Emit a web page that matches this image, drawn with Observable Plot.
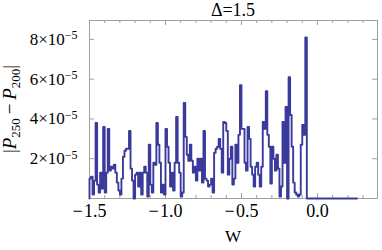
<!DOCTYPE html>
<html><head><meta charset="utf-8">
<script src="https://cdn.jsdelivr.net/npm/d3@7"></script>
<script src="https://cdn.jsdelivr.net/npm/@observablehq/plot@0.6"></script>
<style>html,body{margin:0;padding:0;background:#fff} svg{display:block}</style>
</head><body><div id="chart"></div>
<script>
// ---- data ----
const chartTitle = "Δ=1.5";
const xLabel = "W";
const binStart = -1.5;      // left edge of first bin (W)
const binWidth = 0.01;      // bin width (W)
const tailEnd = 0.26;       // line continues at zero up to here
// |P250 - P200| per bin, in units of 1e-5
const diffValues = [
  1.0,1.1,0.2,0.9,3.8,0.7,0.3,1.3,0.5,3.6,
  0.3,1.3,3.5,1.4,1.6,1.5,1.7,1.3,0.8,0.4,
  0.2,1.0,2.1,2.4,2.5,2.5,3.4,1.5,0.9,0.0,
  1.2,1.3,0.6,1.3,0.2,1.3,1.6,1.3,0.1,2.7,
  0.7,0.3,1.8,1.7,3.8,2.7,1.8,0.3,0.7,0.2,
  3.5,2.6,1.8,0.6,1.3,0.4,1.8,4.1,1.8,1.3,
  0.1,0.3,4.8,3.1,2.2,1.9,2.7,1.9,1.3,1.6,
  0.9,2.0,1.4,2.0,0.8,3.4,1.0,0.9,0.6,0.7,
  1.0,0.3,2.3,2.5,2.6,3.0,2.5,1.3,3.85,3.8,
  3.4,1.2,2.0,2.6,0.7,1.0,2.7,1.8,3.2,5.7,
  3.5,3.5,1.8,1.4,3.6,3.0,1.6,1.2,0.6,1.6,
  1.8,1.2,0.6,1.6,3.85,3.5,5.4,3.2,2.6,0.75,
  2.6,2.0,1.4,2.2,1.5,0.1,0.6,3.85,1.8,4.6,
  0.0,6.1,4.2,2.6,0.8,0.3,0.2,0.1,0.2,2.7,
  3.7,3.2,8.1
];
const xTicks = [-1.5, -1.0, -0.5, 0.0];
const yTicks = [2, 4, 6, 8];           // ×1e-5
const xDomain = [-1.5, 0.395];
const yDomain = [0, 8.95];

// ---- layout ----
const W = 382, H = 250;
const mL = 89, mR = 5, mT = 20, mB = 52;
const pw = W - mL - mR, ph = H - mT - mB;
const frameColor = "#a0a0a0";
const lineColor = "#3a3a9c";
const serif = "'Liberation Serif', 'Times New Roman', serif";

const rows = [{x: binStart, y: 0}];
diffValues.forEach((v, i) => rows.push({x: binStart + i * binWidth, y: v}));
rows.push({x: binStart + diffValues.length * binWidth, y: 0});
rows.push({x: tailEnd, y: 0});

const xMinor = d3.range(-15, 4).map(k => k / 10);

const fmtX = d => (d < 0 ? "\u2212\u200A" : "") + Math.abs(d).toFixed(1);

const plot = Plot.plot({
  width: W, height: H,
  marginLeft: mL, marginRight: mR, marginTop: mT, marginBottom: mB,
  style: {fontFamily: serif, fontSize: "17px", color: "#000", background: "#fff", overflow: "visible"},
  x: {domain: xDomain, label: null},
  y: {domain: yDomain, label: null},
  marks: [
    Plot.frame({stroke: frameColor, strokeWidth: 1}),
    // inward ticks (bottom / top)
    Plot.tickX(xMinor, {x: d => d, stroke: frameColor, insetTop: ph - 3}),
    Plot.tickX(xMinor, {x: d => d, stroke: frameColor, insetBottom: ph - 3}),
    Plot.tickX(xTicks, {x: d => d, stroke: frameColor, insetTop: ph - 5}),
    Plot.tickX(xTicks, {x: d => d, stroke: frameColor, insetBottom: ph - 5}),
    // inward ticks (left / right)
    Plot.tickY(yTicks, {y: d => d, stroke: frameColor, insetRight: pw - 5}),
    Plot.tickY(yTicks, {y: d => d, stroke: frameColor, insetLeft: pw - 5}),
    Plot.lineY(rows, {x: "x", y: "y", curve: "step-after", stroke: lineColor, strokeWidth: 1.9}),
    Plot.axisX(xTicks, {tickSize: 0, tickPadding: 6, tickFormat: fmtX, fontSize: 18, label: null}),
    Plot.axisY(yTicks, {tickSize: 0, tickPadding: 12, tickFormat: d => String(d), fontSize: 17, label: null})
  ]
});

document.getElementById("chart").appendChild(plot);
const svg = d3.select(plot);

// y tick labels as a×10^-5
svg.selectAll('g[aria-label="y-axis tick label"] text').each(function() {
  const t = d3.select(this);
  const v = t.text();
  t.text(null);
  t.append("tspan").text(v + "×10");
  t.append("tspan").attr("dy", "-0.45em").attr("font-size", "12px").text("\u22125");
});

// title
svg.append("text")
  .attr("x", mL + pw / 2).attr("y", 16)
  .attr("text-anchor", "middle")
  .attr("font-size", 18)
  .text(chartTitle);

// x label
svg.append("text")
  .attr("x", mL + pw / 2).attr("y", 242)
  .attr("text-anchor", "middle")
  .attr("font-size", 17)
  .text(xLabel);

// y label |P250 − P200|
const yl = svg.append("text")
  .attr("transform", `translate(16,${mT + ph / 2}) rotate(-90)`)
  .attr("text-anchor", "middle")
  .attr("font-size", 19);
yl.append("tspan").text("|");
yl.append("tspan").attr("font-style", "italic").text("P");
yl.append("tspan").attr("font-size", 13).attr("dy", 4).text("250");
yl.append("tspan").attr("dy", -4).text("\u2009\u2212\u2009");
yl.append("tspan").attr("font-style", "italic").text("P");
yl.append("tspan").attr("font-size", 13).attr("dy", 4).text("200");
yl.append("tspan").attr("dy", -4).text("|");

svg.selectAll("text").style("font-family", serif).attr("fill", "#000");
</script>
</body></html>
